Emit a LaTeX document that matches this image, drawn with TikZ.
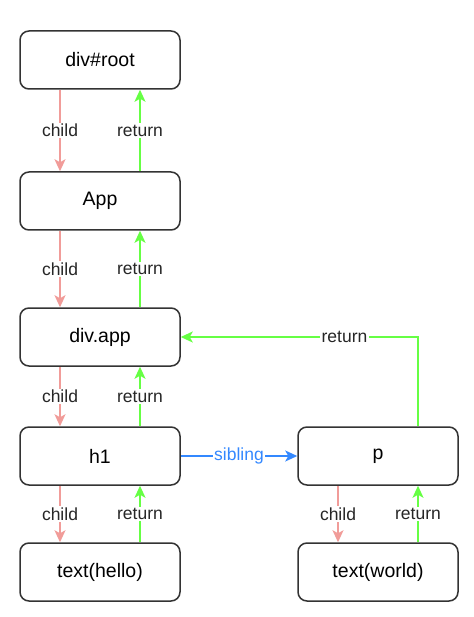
\documentclass[tikz,border=0pt]{standalone}
\usepackage{fontspec}
\setmainfont{Liberation Sans}
\usetikzlibrary{arrows.meta}
\definecolor{childc}{HTML}{F19C99}
\definecolor{retc}{HTML}{66FF44}
\definecolor{sibc}{HTML}{3388FF}
\begin{document}
\begin{tikzpicture}[x=1pt,y=-1pt,
  box/.style={draw=black!80,line width=1.5pt,rounded corners=9pt,minimum width=160pt,minimum height=58pt,inner sep=0pt,font=\fontsize{19.5}{22}\selectfont,fill=white},
  lbl/.style={fill=white,inner sep=1.5pt,font=\fontsize{17.5}{20}\selectfont,text=black!85},
  childarr/.style={draw=childc,line width=1.4pt,-{Stealth[length=12pt,width=11pt,inset=3pt]}},
  retarr/.style={draw=retc,line width=1.4pt,-{Stealth[length=12pt,width=11pt,inset=3pt]}},
  sibarr/.style={draw=sibc,line width=1.4pt,-{Stealth[length=12pt,width=11pt,inset=3pt]}}]
\useasboundingbox[fill=white] (0,0) rectangle (473,617);
\node[box] (root) at (100,60) {div\#root};
\node[box] (app) at (100,201) {App};
\node[box] (divapp) at (100,337) {div.app};
\node[box] (h1) at (100,456) {h1};
\node[box] (hello) at (100,572) {text(hello)};
\node[box] (p) at (378,456) {p};
\node[box] (world) at (378,572) {text(world)};
% child / return pairs
\foreach \a/\b in {root/app,app/divapp,divapp/h1,h1/hello,p/world}{
  \draw[childarr] ([xshift=-40pt]\a.south) -- node[lbl]{child} ([xshift=-40pt]\b.north);
  \draw[retarr] ([xshift=40pt]\b.north) -- node[lbl]{return} ([xshift=40pt]\a.south);
}
\draw[sibarr] (h1.east) -- node[lbl,text=sibc]{sibling} (p.west);
\coordinate (corner) at ([xshift=40pt]p.north |- divapp.east);
\draw[retarr] ([xshift=40pt]p.north) -- (corner) -- node[lbl,pos=0.31]{return} (divapp.east);
\end{tikzpicture}
\end{document}
